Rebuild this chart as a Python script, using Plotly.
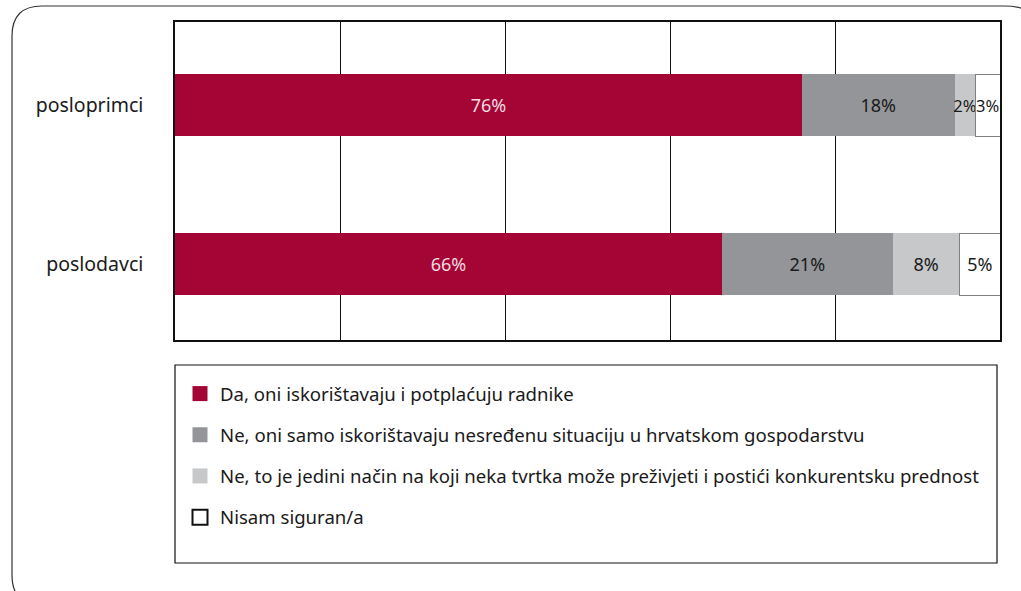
import plotly.graph_objects as go

categories = ["poslodavci", "posloprimci"]
series_names = [
    "Da, oni iskorištavaju i potplaćuju radnike",
    "Ne, oni samo iskorištavaju nesređenu situaciju u hrvatskom gospodarstvu",
    "Ne, to je jedini način na koji neka tvrtka može preživjeti i postići konkurentsku prednost",
    "Nisam siguran/a",
]
# values per series: [poslodavci, posloprimci]
da_vals = [66.3, 76.0]
ne1_vals = [20.7, 18.5]
ne2_vals = [8.1, 2.5]
nisam_vals = [4.9, 3.0]
da_labels = ["66%", "76%"]
ne1_labels = ["21%", "18%"]
ne2_labels = ["8%", "2%"]
nisam_labels = ["5%", "3%"]

colors = ["#a50534", "#939598", "#c7c8ca", "#ffffff"]
text_colors = ["#f3dbe2", "#1a1a1a", "#1a1a1a", "#1a1a1a"]
label_sizes = [[18, 18], [18, 18], [18, 16.5], [18, 16.5]]

FONT = "Noto Sans"

fig = go.Figure()
vals = [da_vals, ne1_vals, ne2_vals, nisam_vals]
labs = [da_labels, ne1_labels, ne2_labels, nisam_labels]
for i in range(4):
    fig.add_trace(go.Bar(
        y=categories, x=vals[i], orientation="h", name=series_names[i],
        text=labs[i], textposition="inside", insidetextanchor="middle",
        constraintext="none", textangle=0, cliponaxis=False,
        textfont=dict(color=text_colors[i], size=label_sizes[i], family=FONT),
        marker=dict(color=colors[i],
                    line=dict(color="#808080" if i == 3 else colors[i], width=1 if i == 3 else 0)),
        width=0.39, showlegend=False, hoverinfo="skip",
    ))

# legend entries (square symbols)
for i in range(4):
    fig.add_trace(go.Scatter(
        x=[None], y=[None], mode="markers", name=series_names[i],
        marker=dict(symbol="square", size=15, color=colors[i],
                    line=dict(color="#111111" if i == 3 else colors[i], width=2 if i == 3 else 0)),
        legendgroup=f"g{i}", showlegend=True, hoverinfo="skip",
    ))

W, H = 1021, 591
L, R, T, B = 175, 21, 22, 251

def px(x):
    return (x - L) / (W - L - R)

def py(y):
    return (H - B - y) / (H - T - B)

border = (f"M {px(12)},{py(36)} Q {px(12)},{py(6)} {px(42)},{py(6)} "
          f"L {px(1005)},{py(6)} Q {px(1045)},{py(6)} {px(1045)},{py(46)} "
          f"L {px(1045)},{py(605)} L {px(42)},{py(605)} "
          f"Q {px(12)},{py(605)} {px(12)},{py(575)} Z")

fig.update_layout(
    width=W, height=H, autosize=False,
    margin=dict(l=L, r=R, t=T, b=B),
    paper_bgcolor="white", plot_bgcolor="white",
    barmode="stack",
    font=dict(family=FONT, size=18, color="#1a1a1a"),
    xaxis=dict(range=[0, 100], dtick=20, showticklabels=False, ticks="",
               showgrid=True, gridcolor="#111111", gridwidth=1,
               showline=True, linecolor="#111111", linewidth=1.5, mirror=True,
               zeroline=False, fixedrange=True),
    yaxis=dict(range=[-0.475, 1.525], showline=True, linecolor="#111111", linewidth=1.5,
               mirror=True, ticks="", ticklabelstandoff=26, showgrid=False,
               tickfont=dict(size=19.5, family=FONT, color="#1a1a1a"), fixedrange=True),
    showlegend=True,
    legend=dict(x=px(180), xanchor="left", y=py(375), yanchor="top",
                traceorder="grouped", tracegroupgap=14, itemsizing="trace",
                font=dict(size=18.6, family=FONT, color="#1a1a1a"),
                bgcolor="rgba(0,0,0,0)", borderwidth=0),
    shapes=[
        dict(type="rect", xref="paper", yref="paper",
             x0=px(175), x1=px(997), y0=py(365), y1=py(563),
             line=dict(color="#111111", width=1.2), fillcolor="rgba(0,0,0,0)"),
        dict(type="path", xref="paper", yref="paper", path=border,
             line=dict(color="#333333", width=1.2), fillcolor="rgba(0,0,0,0)"),
    ],
)

fig.write_html("out.html", config={"displayModeBar": False},
               post_script="document.body.style.margin='0';document.body.style.overflow='hidden';")
